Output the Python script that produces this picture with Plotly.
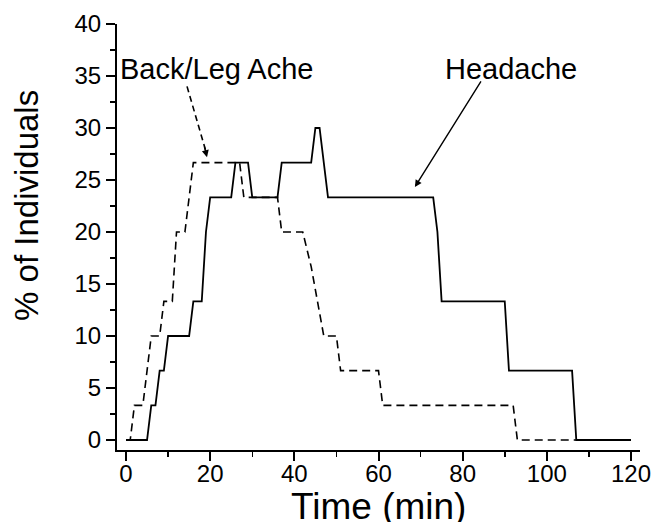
import plotly.graph_objects as go

# Headache (solid line) breakpoints
headache_t = [0, 5, 6, 7, 8, 9, 10, 15, 16, 18, 19, 20, 25, 26, 29, 30, 36, 37, 44, 45, 46, 48, 73, 74, 75, 90, 91, 106, 107, 120]
headache_v = [0, 0, 3.33, 3.33, 6.67, 6.67, 10, 10, 13.33, 13.33, 20, 23.33, 23.33, 26.67, 26.67, 23.33, 23.33, 26.67, 26.67, 30, 30, 23.33, 23.33, 20, 13.33, 13.33, 6.67, 6.67, 0, 0]

# Back/Leg Ache (dashed line) breakpoints
back_t = [0, 1, 2, 4, 5, 6, 8, 9, 11, 12, 14, 15, 16, 27, 28, 36, 37, 42, 44, 47, 50, 51, 60, 61, 92, 93, 120]
back_v = [0, 0, 3.33, 3.33, 6.67, 10, 10, 13.33, 13.33, 20, 20, 23.33, 26.67, 26.67, 23.33, 23.33, 20, 20, 16.67, 10, 10, 6.67, 6.67, 3.33, 3.33, 0, 0]

x_ticks = [0, 20, 40, 60, 80, 100, 120]
y_ticks = [0, 5, 10, 15, 20, 25, 30, 35, 40]

FONT = "Liberation Sans, Arial, sans-serif"

fig = go.Figure()
fig.add_trace(go.Scatter(x=back_t, y=back_v, mode="lines",
                         line=dict(color="black", width=1.6, dash="8px,5px"),
                         name="Back/Leg Ache", showlegend=False, hoverinfo="skip"))
fig.add_trace(go.Scatter(x=headache_t, y=headache_v, mode="lines",
                         line=dict(color="black", width=1.8),
                         name="Headache", showlegend=False, hoverinfo="skip"))

axis_common = dict(showline=True, linecolor="black", linewidth=2, showgrid=False,
                   zeroline=False, ticks="outside", ticklen=9, tickwidth=2, automargin=False,
                   tickcolor="black", tickfont=dict(family=FONT, size=24, color="black"))

fig.update_xaxes(range=[-2.14, 122.14], tickvals=x_ticks, ticklabelstandoff=-8,
                 minor=dict(dtick=10, tick0=0, ticks="outside", ticklen=5, tickwidth=1.5, tickcolor="black"),
                 **axis_common)
fig.update_yaxes(range=[-0.96, 40], tickvals=y_ticks,
                 minor=dict(dtick=2.5, tick0=0, ticks="outside", ticklen=5, tickwidth=1.5, tickcolor="black"),
                 **axis_common)

# Dashed pointer for Back/Leg Ache
fig.add_shape(type="line", x0=14.5, y0=34.0, x1=19.1, y1=27.6, xref="x", yref="y",
              line=dict(color="black", width=1.6, dash="6px,4px"))
fig.add_annotation(x=19.25, y=27.2, xref="x", yref="y", text="", showarrow=True,
                   ax=-3, ay=-12, arrowhead=2, arrowsize=1, arrowwidth=1.4, arrowcolor="black")

# Headache pointer
fig.add_annotation(x=68.65, y=24.33, xref="x", yref="y", text="", showarrow=True,
                   ax=67, ay=-107, arrowhead=2, arrowsize=1, arrowwidth=1.4, arrowcolor="black")

fig.add_annotation(x=21.4, y=35.7, xref="x", yref="y", text="Back/Leg Ache", showarrow=False,
                   font=dict(family=FONT, size=29, color="black"), xanchor="center", yanchor="middle")
fig.add_annotation(x=91.5, y=35.7, xref="x", yref="y", text="Headache", showarrow=False,
                   font=dict(family=FONT, size=29, color="black"), xanchor="center", yanchor="middle")

# Axis titles
fig.add_annotation(x=-0.172, y=0.573, xref="paper", yref="paper", text="% of Individuals",
                   textangle=-90, showarrow=False, xanchor="center", yanchor="middle",
                   font=dict(family=FONT, size=33, color="black"))
fig.add_annotation(x=0.5, y=0, xref="paper", yref="paper", yshift=-34, text="Time (min)",
                   showarrow=False, xanchor="center", yanchor="top",
                   font=dict(family=FONT, size=37, color="black"))

fig.update_layout(width=653, height=522, margin=dict(l=117, r=13, t=24, b=72, autoexpand=False),
                  paper_bgcolor="white", plot_bgcolor="white",
                  font=dict(family=FONT, color="black"))

fig.write_html("out.html", config={"displayModeBar": False, "staticPlot": True},
               post_script="document.body.style.margin='0';document.body.style.overflow='hidden';")
